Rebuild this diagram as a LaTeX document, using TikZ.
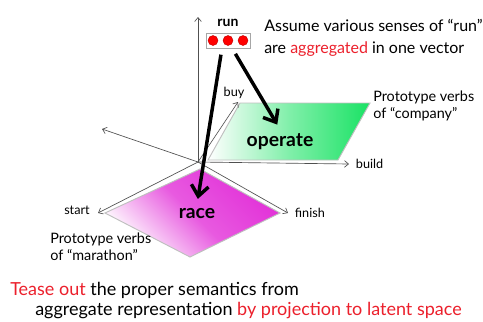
\documentclass[tikz,border=0pt]{standalone}
\usepackage{fontspec}
\setmainfont{Lato}
\usepackage{tikz}
\usetikzlibrary{arrows.meta,positioning,calc}
\usepackage{xcolor}
\definecolor{opgreen}{RGB}{25,226,100}
\definecolor{racemag}{RGB}{226,48,216}
\definecolor{hilite}{RGB}{236,32,44}
\definecolor{axisgray}{RGB}{80,80,80}
\tikzset{
  axisline/.style={-{Straight Barb[length=3pt,width=5pt]}, line width=0.5pt, axisgray},
  axislabel/.style={font=\fontsize{9.5}{11}\selectfont, inner sep=1pt},
  protolabel/.style={font=\fontsize{10.8}{12.5}\selectfont, align=left, inner sep=0pt},
  planeedge/.style={draw=gray!50, line width=0.7pt},
  bigarrow/.style={-{Straight Barb[length=8pt,width=13pt]}, line width=2.6pt},
  wordlabel/.style={font=\bfseries\fontsize{14.5}{16}\selectfont},
  toptext/.style={font=\fontsize{12}{14}\selectfont, inner sep=0pt},
  bottomtext/.style={font=\fontsize{13.5}{16}\selectfont, inner sep=0pt},
  rundot/.style={circle, fill=red, draw=red!75!black, line width=0.3pt, inner sep=0pt, minimum size=7.5pt},
}
\newcommand{\hl}[1]{\textcolor{hilite}{#1}}

\begin{document}
\begin{tikzpicture}[x=0.75pt, y=-0.75pt]
  \fill[white] (0,0) rectangle (483,322);
  \useasboundingbox (0,0) rectangle (483,322);

  % axis ends
  \coordinate (o) at (198,162);
  \coordinate (upend) at (198,17);
  \coordinate (backend) at (102,129);
  \coordinate (buyend) at (238,102);
  \coordinate (buildend) at (349,164);
  \coordinate (startend) at (98,213);
  \coordinate (finishend) at (288,213);

  % the two planes
  \path[planeedge, left color=white, right color=opgreen, middle color=opgreen!55!white]
    (240,103) -- (370,103) -- (338,160) -- (208,160) -- cycle;
  \path[planeedge, left color=white, right color=racemag,
        middle color=racemag!80!white, shading angle=135]
    (200,169) -- (280,213) -- (190,257) -- (105,213) -- cycle;

  \draw[axisline] (o) -- (upend);
  \draw[axisline] (o) -- (backend);
  \draw[axisline] (o) -- (buyend);
  \draw[axisline] (o) -- (buildend);
  \draw[axisline] (o) -- (startend);
  \draw[axisline] (o) -- (finishend);

  \node[axislabel, above=1pt of buyend, xshift=-3pt] (buy) {buy};
  \node[axislabel, right=4pt of buildend] (build) {build};
  \node[axislabel, left=5pt of startend, yshift=2pt] (start) {start};
  \node[axislabel, right=4pt of finishend] (finish) {finish};

  \node[wordlabel] (operate) at (280,142) {operate};
  \node[wordlabel] (race) at (197,214) {race};

  \node[protolabel, anchor=west] (company) at (373,106)
    {Prototype verbs\\of “company”};
  \node[protolabel, anchor=west] (marathon) at (50,247)
    {Prototype verbs\\of “marathon”};

  % the "run" vector
  \node[draw=gray!70, minimum width=33pt, minimum height=11pt, inner sep=0pt]
    (runbox) at (228,40.5) {};
  \foreach \i/\dx in {1/-15,2/0,3/15}
    \node[rundot] (dot\i) at ($(runbox)+(\dx,0)$) {};
  \node[font=\bfseries\fontsize{10.5}{12}\selectfont] (run) at (228,23) {run};

  \draw[bigarrow, shorten <=5pt, shorten >=4pt]
    ([xshift=-4.5pt]runbox.south) -- (race.north);
  \draw[bigarrow, shorten <=5pt, shorten >=4pt]
    ([xshift=3pt]runbox.south) -- (operate.north);

  \node[toptext, anchor=base west] (assume) at (264,31)
    {Assume various senses of “run”};
  \node[toptext, anchor=base west] (aggreg) at (264,53)
    {are \hl{aggregated} in one vector};

  \node[bottomtext, anchor=base west] (tease) at (10,295)
    {\hl{Tease out} the proper semantics from};
  \node[bottomtext, anchor=base west] (aggrep) at (35,315)
    {aggregate representation \hl{by projection to latent space}};
\end{tikzpicture}
\end{document}
